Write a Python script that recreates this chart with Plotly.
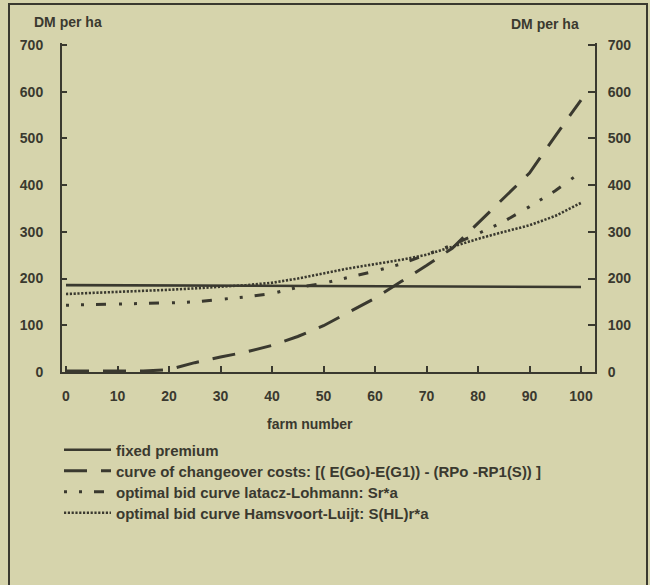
import plotly.graph_objects as go

# ---------------- data ----------------
farm = [0, 5, 10, 15, 20, 25, 30, 35, 40, 45, 50, 55, 60, 65, 70, 75, 80, 85, 90, 95, 100]

fixed_x = [0, 50, 100]
fixed_premium = [186, 184, 182]

changeover = [2, 2, 2, 2, 5, 20, 32, 43, 57, 76, 99, 128, 158, 193, 228, 265, 319, 373, 426, 505, 582]
lohmann = [143, 144, 145, 146, 148, 150, 155, 161, 168, 181, 190, 203, 216, 231, 252, 272, 296, 322, 354, 388, 428]
hamsvoort = [167, 169, 171, 174, 176, 179, 182, 186, 191, 200, 211, 222, 231, 240, 251, 268, 285, 300, 314, 334, 362]

x_ticks = [0, 10, 20, 30, 40, 50, 60, 70, 80, 90, 100]
y_ticks = [0, 100, 200, 300, 400, 500, 600, 700]

names = [
    "fixed premium",
    "curve of changeover costs: [( E(Go)-E(G1)) - (RPo -RP1(S)) ]",
    "optimal bid curve latacz-Lohmann: Sr*a",
    "optimal bid curve Hamsvoort-Luijt: S(HL)r*a",
]

# ---------------- style ----------------
BG = "#d6d4ac"
INK = "#3a392f"
FONT = "Liberation Sans"

W, H = 650, 585
L, R, T, B = 62, 55, 43, 213
PW = W - L - R
PH = H - T - B


def px_x(p):
    return (p - L) / PW


def px_y(p):
    return (H - B - p) / PH


legend_ids = ["legend", "legend2", "legend3", "legend4"]
legend_rows = [450, 471, 492, 513]

fig = go.Figure()
fig.add_trace(go.Scatter(x=fixed_x, y=fixed_premium, mode="lines", name=names[0],
                         legend=legend_ids[0], line=dict(color=INK, width=2.6)))
fig.add_trace(go.Scatter(x=farm, y=changeover, mode="lines", name=names[1],
                         legend=legend_ids[1], line=dict(color=INK, width=3, dash="23px,14px")))
fig.add_trace(go.Scatter(x=farm, y=lohmann, mode="lines", name=names[2],
                         legend=legend_ids[2],
                         line=dict(color=INK, width=3, dash="3px,12px,3px,12px,10px,13px")))
fig.add_trace(go.Scatter(x=farm, y=hamsvoort, mode="lines", name=names[3],
                         legend=legend_ids[3], line=dict(color=INK, width=2.6, dash="2.2px,1.6px")))
# invisible trace to carry the right-hand axis
fig.add_trace(go.Scatter(x=[0], y=[0], yaxis="y2", mode="lines", showlegend=False,
                         line=dict(color="rgba(0,0,0,0)"), hoverinfo="skip"))

x0 = -4 / 5.15
x1 = 100 + 14 / 5.15
y1 = 700 + 2 / 0.467

tickfont = dict(family=FONT, size=14, color=INK, weight="bold")
legfont = dict(family=FONT, size=15, color=INK, weight="bold")

layout_legends = {}
for lid, row in zip(legend_ids, legend_rows):
    layout_legends[lid] = dict(x=px_x(59), xanchor="left", y=px_y(row), yanchor="middle",
                               bgcolor="rgba(0,0,0,0)", font=legfont, itemwidth=47)

fig.update_layout(
    width=W, height=H,
    margin=dict(l=L, r=R, t=T, b=B),
    paper_bgcolor=BG, plot_bgcolor=BG,
    font=dict(family=FONT, color=INK, weight="bold"),
    xaxis=dict(range=[x0, x1], tickvals=x_ticks, ticks="inside", ticklen=6, tickwidth=1.5,
               tickcolor=INK, showline=True, linecolor=INK, linewidth=2,
               showgrid=False, zeroline=False, tickfont=tickfont, ticklabelstandoff=10),
    yaxis=dict(range=[0, y1], tickvals=y_ticks, ticks="inside", ticklen=5, tickwidth=1.5,
               tickcolor=INK, showline=True, linecolor=INK, linewidth=2,
               showgrid=False, zeroline=False, tickfont=tickfont, ticklabelstandoff=14),
    yaxis2=dict(range=[0, y1], tickvals=y_ticks, overlaying="y", side="right",
                ticks="inside", ticklen=7, tickwidth=1.5, tickcolor=INK,
                showline=True, linecolor=INK, linewidth=2,
                showgrid=False, zeroline=False, tickfont=tickfont, ticklabelstandoff=8),
    showlegend=True,
    **layout_legends,
)

annots = [
    dict(text="DM per ha", x=px_x(68), y=px_y(22)),
    dict(text="DM per ha", x=px_x(545), y=px_y(24)),
    dict(text="farm number", x=px_x(310), y=px_y(424)),
]
for a in annots:
    fig.add_annotation(xref="paper", yref="paper", showarrow=False,
                       xanchor="center", yanchor="middle",
                       font=dict(family=FONT, size=14, color=INK, weight="bold"), **a)

# outer frame of the figure
fig.add_shape(type="rect", xref="paper", yref="paper",
              x0=px_x(9), x1=px_x(647), y0=px_y(600), y1=px_y(4),
              line=dict(color=INK, width=2), fillcolor="rgba(0,0,0,0)", layer="below")

fig.write_html("out.html",
               config={"displayModeBar": False},
               post_script="document.body.style.margin='0';document.body.style.background='%s';" % BG)
